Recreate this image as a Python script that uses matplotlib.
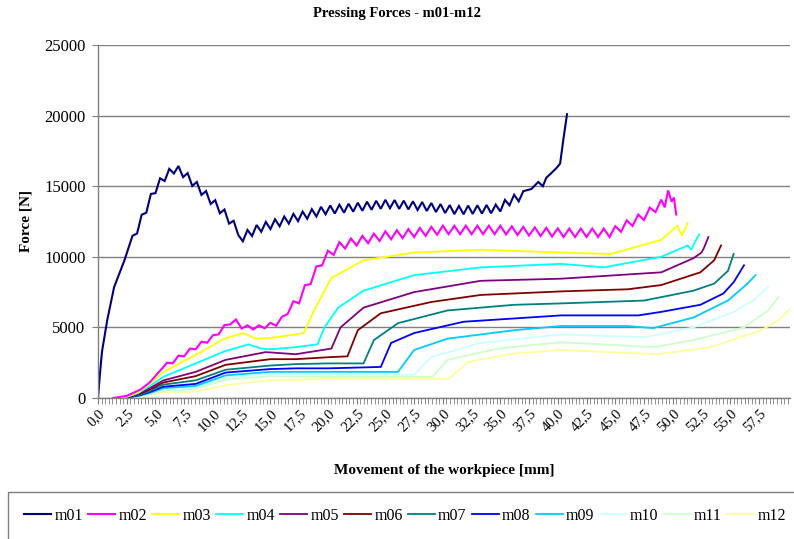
import numpy as np
import matplotlib
matplotlib.use("Agg")
import matplotlib.pyplot as plt
from matplotlib.ticker import MultipleLocator, FixedLocator, FuncFormatter

# ── data (mm, N) ─────────────────────────────────────────────────────────────
NAMES = ["m01", "m02", "m03", "m04", "m05", "m06",
         "m07", "m08", "m09", "m10", "m11", "m12"]
COLORS = ["#000080", "#FF00FF", "#FFFF00", "#00FFFF", "#800080", "#800000",
          "#008080", "#0000FF", "#00CCFF", "#CCFFFF", "#CCFFCC", "#FFFF99"]
X_TICKS = [0.0, 2.5, 5.0, 7.5, 10.0, 12.5, 15.0, 17.5, 20.0, 22.5, 25.0, 27.5,
           30.0, 32.5, 35.0, 37.5, 40.0, 42.5, 45.0, 47.5, 50.0, 52.5, 55.0, 57.5]

# m01: rise, sampled ripple section (every 0.4 mm from 3.0 mm), final rise
M01_HEAD_X = [0.0, 0.2, 0.35, 0.8, 1.4, 2.3]
M01_HEAD_Y = [0, 2000, 3300, 5500, 7850, 9750]
M01_RIP_START, M01_RIP_STEP = 3.0, 0.4
M01_RIP_Y = [11490, 11650, 12980, 13120, 14450, 14510, 15560, 15370, 16230, 15900,
             16430, 15640, 15930, 15020, 15300, 14380, 14660, 13740, 14010, 13080,
             13350, 12350, 12550, 11550, 11100, 11900, 11470, 12250, 11770, 12470,
             11965, 12660, 12160, 12855, 12350, 13040, 12525, 13205, 12690, 13370,
             12855, 13540, 13010, 13635, 13065, 13690, 13125, 13760, 13195, 13830,
             13260, 13900, 13330, 13965, 13400, 14035, 13440, 14020, 13395, 13975,
             13355, 13930, 13310, 13880, 13245, 13810, 13170, 13735, 13100, 13665,
             13025, 13600, 13015, 13625, 13035, 13650, 13060, 13670, 13085, 13695,
             13210, 14030, 13645, 14395, 13925, 14650]
M01_TAIL_X = [37.7, 38.3, 38.7, 39.0, 39.4, 39.9, 40.2, 40.5, 40.8]
M01_TAIL_Y = [14800, 15300, 15000, 15600, 15900, 16300, 16600, 18400, 20100]

# m02: same idea, ripple sampled every 0.5 mm from 6.0 mm
M02_HEAD_X = [1.3, 2.5, 3.7, 4.5, 5.2, 5.7]
M02_HEAD_Y = [0, 150, 600, 1100, 1750, 2200]
M02_RIP_START, M02_RIP_STEP = 6.0, 0.5
M02_RIP_Y = [2500, 2450, 3000, 2950, 3500, 3450, 3985, 3915, 4450, 4505,
             5165, 5210, 5560, 4920, 5150, 4850, 5150, 4940, 5325, 5115,
             5750, 5950, 6855, 6700, 7990, 8065, 9325, 9390, 10430, 10135,
             11040, 10585, 11295, 10800, 11480, 10960, 11640, 11120, 11800, 11240,
             11880, 11320, 11960, 11400, 12040, 11480, 12120, 11560, 12200, 11600,
             12200, 11600, 12200, 11600, 12200, 11600, 12200, 11600, 12200, 11580,
             12160, 11540, 12120, 11505, 12085, 11470, 12050, 11430, 12010, 11400,
             12000, 11400, 12000, 11400, 12000, 11400, 12000, 11400, 12165, 11770,
             12580, 12185, 12990, 12600, 13485, 13165, 14050]
M02_TAIL_X = [49.3, 49.6, 49.9, 50.1, 50.3]
M02_TAIL_Y = [13500, 14700, 13900, 14200, 13000]

M03_X = [1.5, 2.5, 3.5, 4.5, 5.7, 8.5, 11.0, 12.6, 13.2, 13.7, 15.0, 17.2, 17.9,
         18.8, 20.3, 23.1, 27.5, 33.3, 40.3, 44.6, 49.0, 50.4, 50.8, 51.3]
M03_Y = [0, 100, 400, 1000, 1850, 3050, 4200, 4600, 4400, 4200, 4250, 4500, 4600,
         6200, 8500, 9750, 10300, 10500, 10300, 10200, 11200, 12200, 11500, 12400]

M04_X = [1.5, 2.5, 3.5, 4.5, 5.7, 8.5, 11.0, 13.1, 14.2, 15.0, 17.2, 19.1, 19.7,
         20.9, 23.1, 27.5, 33.3, 40.3, 44.0, 49.0, 51.3, 51.6, 51.9, 52.3]
M04_Y = [0, 80, 350, 850, 1500, 2450, 3300, 3800, 3500, 3450, 3600, 3800, 5000,
         6400, 7600, 8700, 9250, 9500, 9250, 10000, 10800, 10500, 11000, 11600]

M05_X = [1.5, 2.5, 3.5, 4.5, 5.7, 8.5, 11.1, 14.6, 17.2, 20.3, 21.1, 23.1, 27.5,
         33.3, 40.3, 49.0, 51.8, 52.5, 52.7, 53.1]
M05_Y = [0, 60, 300, 700, 1250, 1850, 2700, 3250, 3100, 3500, 5000, 6400, 7500,
         8300, 8450, 8900, 9900, 10300, 10600, 11400]

M06_X = [1.5, 2.5, 3.5, 4.5, 5.7, 8.5, 11.1, 15.0, 17.2, 20.3, 21.7, 22.6, 24.6,
         29.0, 33.3, 40.3, 46.1, 49.0, 52.4, 53.6, 54.2]
M06_Y = [0, 50, 250, 600, 1100, 1550, 2350, 2750, 2750, 2900, 2950, 4800, 6000,
         6800, 7300, 7550, 7700, 8000, 8900, 9750, 10800]

M07_X = [1.5, 2.5, 3.5, 4.5, 5.7, 8.5, 11.1, 15.0, 17.2, 20.0, 23.1, 24.0, 26.1,
         30.4, 36.2, 40.3, 47.5, 51.8, 53.6, 54.8, 55.3]
M07_Y = [0, 40, 200, 500, 950, 1250, 2000, 2300, 2400, 2450, 2450, 4100, 5300,
         6200, 6600, 6700, 6900, 7600, 8100, 9000, 10200]

M08_X = [1.5, 2.5, 3.5, 4.5, 5.7, 8.5, 11.1, 15.0, 17.2, 20.0, 24.6, 25.5, 27.5,
         31.8, 40.3, 47.0, 49.0, 52.4, 54.4, 55.3, 56.2]
M08_Y = [0, 30, 170, 420, 800, 1000, 1800, 2050, 2100, 2100, 2200, 3900, 4600,
         5400, 5850, 5850, 6100, 6600, 7400, 8200, 9400]

M09_X = [1.5, 2.5, 3.5, 4.5, 5.7, 8.5, 11.1, 15.0, 20.0, 26.1, 27.5, 30.4, 36.2,
         40.3, 46.0, 48.3, 51.8, 54.8, 56.5, 57.2]
M09_Y = [0, 25, 140, 350, 700, 850, 1600, 1850, 1850, 1850, 3400, 4200, 4800,
         5100, 5100, 4950, 5700, 6900, 8100, 8700]

M10_X = [1.5, 2.5, 3.5, 4.5, 5.7, 8.5, 11.1, 15.0, 20.0, 27.5, 29.0, 33.3, 40.3,
         47.5, 51.8, 55.3, 57.0, 58.3]
M10_Y = [0, 20, 110, 290, 600, 750, 1450, 1700, 1650, 1650, 2900, 3900, 4500,
         4300, 5000, 6100, 6900, 7850]

M11_X = [1.5, 2.5, 3.5, 4.5, 5.7, 8.5, 11.1, 15.0, 20.0, 29.1, 30.4, 34.8, 40.3,
         48.4, 51.8, 56.2, 58.3, 59.2]
M11_Y = [0, 15, 90, 240, 500, 650, 1300, 1550, 1500, 1500, 2700, 3500, 3950,
         3600, 4100, 5000, 6200, 7150]

M12_X = [1.5, 2.5, 3.5, 4.5, 5.7, 8.5, 11.1, 15.0, 20.0, 30.5, 32.2, 36.2, 40.3,
         48.7, 53.3, 57.7, 59.2, 60.3]
M12_Y = [0, 10, 70, 190, 400, 450, 900, 1250, 1350, 1350, 2550, 3150, 3400,
         3100, 3600, 4800, 5500, 6400]


def ripple_x(start, step, n):
    return list(np.round(start + step * np.arange(n), 2))


m01_x = M01_HEAD_X + ripple_x(M01_RIP_START, M01_RIP_STEP, len(M01_RIP_Y)) + M01_TAIL_X
m01_y = M01_HEAD_Y + M01_RIP_Y + M01_TAIL_Y
m02_x = M02_HEAD_X + ripple_x(M02_RIP_START, M02_RIP_STEP, len(M02_RIP_Y)) + M02_TAIL_X
m02_y = M02_HEAD_Y + M02_RIP_Y + M02_TAIL_Y

SERIES = [(m01_x, m01_y), (m02_x, m02_y), (M03_X, M03_Y), (M04_X, M04_Y),
          (M05_X, M05_Y), (M06_X, M06_Y), (M07_X, M07_Y), (M08_X, M08_Y),
          (M09_X, M09_Y), (M10_X, M10_Y), (M11_X, M11_Y), (M12_X, M12_Y)]

# ── figure ───────────────────────────────────────────────────────────────────
plt.rcParams.update({
    "font.family": ["Liberation Serif", "DejaVu Serif"],
    "font.size": 11,
})
fig = plt.figure(figsize=(7.94, 5.39), dpi=100)
ax = fig.add_axes([98 / 794, 1 - 398 / 539, 692 / 794, 353 / 539])

GRID = "#808080"
ax.yaxis.grid(True, color=GRID, linewidth=1.0)
ax.set_axisbelow(True)

# draw back to front so m01 ends up on top, like the original
for (xs, ys), name, col in list(zip(SERIES, NAMES, COLORS))[::-1]:
    lw = 1.5 if name in ("m01", "m02") else 1.3
    ax.plot(xs, ys, color=col, linewidth=lw, label=name, solid_joinstyle="miter")

ax.set_xlim(0, 60.2)
ax.set_ylim(0, 25000)
ax.yaxis.set_major_locator(MultipleLocator(5000))
ax.xaxis.set_major_locator(FixedLocator(X_TICKS))
ax.xaxis.set_minor_locator(MultipleLocator(2.5 / 8))
ax.xaxis.set_major_formatter(FuncFormatter(lambda v, p: f"{v:.1f}".replace(".", ",")))

for sp in ("top", "right"):
    ax.spines[sp].set_visible(False)
for sp in ("left", "bottom"):
    ax.spines[sp].set_color(GRID)
    ax.spines[sp].set_linewidth(1.0)

ax.tick_params(axis="y", length=4, color=GRID, labelsize=12, pad=5)
ax.tick_params(axis="x", which="both", length=4, color=GRID, labelsize=10.5, pad=2)
for lab in ax.get_xticklabels():
    lab.set_rotation(45)
    lab.set_ha("right")
    lab.set_va("top")
    lab.set_rotation_mode("anchor")

fig.text(0.5, 1 - 14 / 539, "Pressing Forces - m01-m12", ha="center", va="center",
         fontsize=10.5, fontweight="bold")
ax.set_xlabel("Movement of the workpiece [mm]", fontsize=11, fontweight="bold", labelpad=22)
ax.set_ylabel("Force [N]", fontsize=11, fontweight="bold", labelpad=8)

handles, labels = ax.get_legend_handles_labels()
order = [labels.index(n) for n in NAMES]
leg = fig.legend([handles[i] for i in order], NAMES, loc="upper left",
                 bbox_to_anchor=(8 / 794, 1 - 492 / 539, 1.0, 0.0), mode="expand",
                 borderaxespad=0.0, ncol=12, fontsize=11.5, handlelength=1.7,
                 handletextpad=0.2, borderpad=1.0, fancybox=False, framealpha=1.0)
leg.get_frame().set_edgecolor(GRID)
leg.get_frame().set_linewidth(1.0)

fig.savefig("out.png", dpi=100)
